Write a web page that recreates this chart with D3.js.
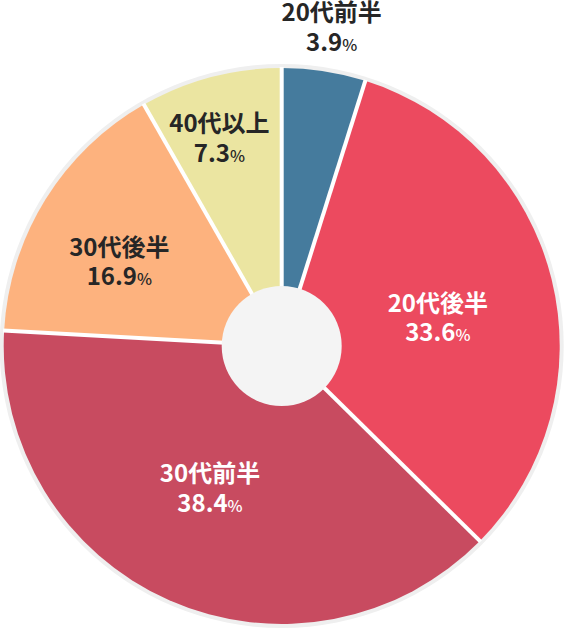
<!DOCTYPE html>
<html>
<head>
<meta charset="utf-8">
<script src="https://cdn.jsdelivr.net/npm/d3@7"></script>
<style>
  html, body { margin: 0; padding: 0; background: #ffffff; }
  svg { display: block; }
</style>
</head>
<body>
<svg id="chart" width="564" height="628"></svg>
<script>
// ---- data ----
const categories = ["20代前半", "20代後半", "30代前半", "30代後半", "40代以上"];
// slice sizes as drawn in the picture
const sliceShares = [4.86, 32.5, 38.5, 15.86, 8.25];
// percentages printed on the labels
const labelPercents = ["3.9", "33.6", "38.4", "16.9", "7.3"];
const colors = ["#457b9d", "#ec4a5f", "#c84b60", "#fdb27e", "#ebe5a1"];
const textColors = ["#262626", "#ffffff", "#ffffff", "#262626", "#262626"];
// label placement: radius for centroid and small nudges
const labelRadius = [322, 165, 165, 165, 165];
const labelNudge = [[1, 0], [-4, 12], [-5, -8], [-22, 3], [-20, -48]];

const W = 564, H = 628;
const cx = 281.7, cy = 346;
const R = 278, ringR = 282, holeR = 60;

const svg = d3.select("#chart");
const g = svg.append("g").attr("transform", `translate(${cx},${cy})`);

const data = categories.map((c, i) => ({ cat: c, v: sliceShares[i], i }));
const pie = d3.pie().value(d => d.v).sort(null).startAngle(0).endAngle(2 * Math.PI);
const arcs = pie(data);

// outer light ring
g.append("circle").attr("r", ringR).attr("fill", "#efefef");

const arc = d3.arc().innerRadius(0).outerRadius(R);
g.selectAll("path.slice").data(arcs).enter().append("path")
  .attr("class", "slice")
  .attr("d", arc)
  .attr("fill", d => colors[d.data.i]);

// white separators at slice boundaries
g.selectAll("line.sep").data(arcs).enter().append("line")
  .attr("class", "sep")
  .attr("x1", 0).attr("y1", 0)
  .attr("x2", d => Math.sin(d.startAngle) * (R + 1))
  .attr("y2", d => -Math.cos(d.startAngle) * (R + 1))
  .attr("stroke", "#ffffff")
  .attr("stroke-width", 4);

// center hole
g.append("circle").attr("r", holeR).attr("fill", "#f4f4f4");

// labels
const lab = g.selectAll("text.lab").data(arcs).enter().append("text")
  .attr("class", "lab")
  .attr("text-anchor", "middle")
  .attr("font-family", "'Noto Sans CJK JP', 'Noto Sans', sans-serif")
  .attr("font-weight", 700)
  .attr("font-size", 24)
  .attr("fill", d => textColors[d.data.i])
  .attr("transform", d => {
    const i = d.data.i;
    const c = d3.arc().innerRadius(labelRadius[i]).outerRadius(labelRadius[i]).centroid(d);
    return `translate(${c[0] + labelNudge[i][0]},${c[1] + labelNudge[i][1]})`;
  });

lab.append("tspan")
  .attr("x", 0).attr("y", -6.5)
  .text(d => d.data.cat);

const l2 = lab.append("tspan").attr("x", 0).attr("y", 23);
l2.append("tspan").text(d => labelPercents[d.data.i]);
l2.append("tspan").attr("font-size", 16).attr("font-weight", 500).text("%");
</script>
</body>
</html>
